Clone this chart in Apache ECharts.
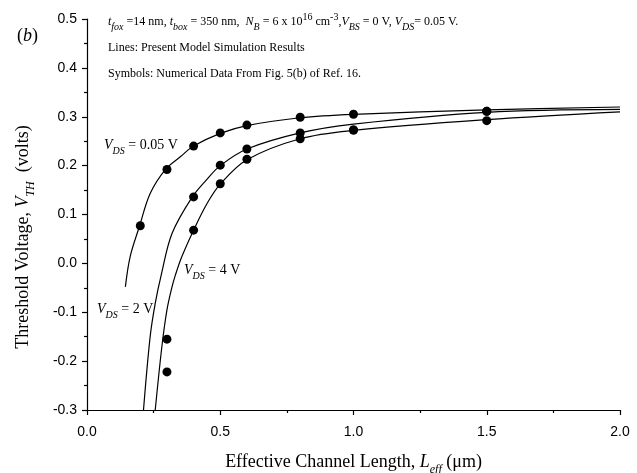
<!DOCTYPE html>
<html><head><meta charset="utf-8">
<script src="https://cdn.jsdelivr.net/npm/echarts@6/dist/echarts.min.js"></script>
<style>html,body{margin:0;padding:0;background:#fff}#c{width:637px;height:473px}</style>
</head><body><div id="c"></div>
<script>
// Axis ticks
const xTicks = [0.0, 0.5, 1.0, 1.5, 2.0];
const yTicks = [-0.3, -0.2, -0.1, 0.0, 0.1, 0.2, 0.3, 0.4, 0.5];

// Symbols: numerical data (Leff in um, Vth in V)
const symLeff005 = [0.2, 0.3, 0.4, 0.5, 0.6, 0.8, 1.0, 1.5];
const symVth005  = [0.077, 0.192, 0.240, 0.267, 0.283, 0.299, 0.305, 0.311];
const symLeff2   = [0.3, 0.4, 0.5, 0.6, 0.8, 1.0, 1.5];
const symVth2    = [-0.155, 0.136, 0.201, 0.234, 0.267, 0.273, 0.311];
const symLeff4   = [0.3, 0.4, 0.5, 0.6, 0.8, 1.0, 1.5];
const symVth4    = [-0.222, 0.068, 0.163, 0.213, 0.255, 0.273, 0.292];

// Lines: model results
const lineLeff005 = [0.144, 0.162, 0.197, 0.237, 0.294, 0.35, 0.4, 0.5, 0.6, 0.8, 1.0, 1.5, 2.0];
const lineVth005  = [-0.048, 0.014, 0.076, 0.143, 0.192, 0.218, 0.240, 0.266, 0.282, 0.298, 0.305, 0.314, 0.320];
const lineLeff2   = [0.212, 0.237, 0.256, 0.278, 0.319, 0.394, 0.45, 0.5, 0.6, 0.8, 1.0, 1.5, 2.0];
const lineVth2    = [-0.300, -0.150, -0.082, -0.025, 0.061, 0.135, 0.172, 0.200, 0.234, 0.267, 0.285, 0.309, 0.315];
const lineLeff4   = [0.256, 0.281, 0.300, 0.319, 0.331, 0.356, 0.4, 0.45, 0.5, 0.6, 0.8, 1.0, 1.5, 2.0];
const lineVth4    = [-0.300, -0.170, -0.095, -0.048, -0.025, 0.014, 0.068, 0.122, 0.162, 0.212, 0.255, 0.272, 0.294, 0.310];

const zip = (a, b) => a.map((v, i) => [v, b[i]]);
const serif = '"Liberation Serif","Times New Roman",serif';
const sans = '"Liberation Sans",Arial,sans-serif';

function richSet(fs, subFs) {
  const L = Math.round(subFs + 0.84 * fs);
  return {
    r: {fontFamily: serif, fontSize: fs, color: '#000', lineHeight: L},
    it: {fontFamily: serif, fontSize: fs, fontStyle: 'italic', color: '#000', lineHeight: L},
    sb: {fontFamily: serif, fontSize: subFs, fontStyle: 'italic', color: '#000', verticalAlign: 'bottom'},
    sp: {fontFamily: serif, fontSize: subFs, color: '#000', verticalAlign: 'top'}
  };
}

const chart = echarts.init(document.getElementById('c'), null, {renderer: 'canvas'});
const lineStyle = {color: '#000', width: 1.2};
const mkLine = (xs, ys) => ({type: 'line', data: zip(xs, ys), showSymbol: false, smooth: 0.35, lineStyle, silent: true, z: 2});
const mkSym = (xs, ys) => ({type: 'scatter', data: zip(xs, ys), symbol: 'circle', symbolSize: 9, itemStyle: {color: '#000', opacity: 1}, silent: true, z: 3});

chart.setOption({
  animation: false,
  backgroundColor: '#fff',
  grid: {left: 87, right: 17, top: 19, bottom: 63, outerBoundsMode: 'none', containLabel: false},
  xAxis: {
    type: 'value', min: 0, max: 2, interval: 0.5,
    axisLine: {show: true, onZero: false, lineStyle: {color: '#000', width: 1.2}},
    axisTick: {show: true, inside: false, length: 5, lineStyle: {color: '#000', width: 1.2}},
    minorTick: {show: true, splitNumber: 2, length: 3, lineStyle: {color: '#000', width: 1.2}},
    splitLine: {show: false},
    axisLabel: {color: '#000', fontFamily: sans, fontSize: 14, margin: 15,
      formatter: v => xTicks.includes(+v.toFixed(1)) ? v.toFixed(1) : ''},
    name: '{r|Effective Channel Length, }{it|L}{sb|eff}{r| (μm)}',
    nameLocation: 'middle', nameGap: 39,
    nameTextStyle: {rich: richSet(18, 12)}
  },
  yAxis: {
    type: 'value', min: -0.3, max: 0.5, interval: 0.1,
    axisLine: {show: true, onZero: false, lineStyle: {color: '#000', width: 1.2}},
    axisTick: {show: true, inside: false, length: 5, lineStyle: {color: '#000', width: 1.2}},
    minorTick: {show: true, splitNumber: 2, length: 3, lineStyle: {color: '#000', width: 1.2}},
    splitLine: {show: false},
    axisLabel: {color: '#000', fontFamily: sans, fontSize: 14, margin: 10,
      formatter: v => { const r = +(+v).toFixed(1); return yTicks.includes(r) ? r.toFixed(1) : ''; }}
  },
  series: [
    mkLine(lineLeff005, lineVth005),
    mkLine(lineLeff2, lineVth2),
    mkLine(lineLeff4, lineVth4),
    mkSym(symLeff005, symVth005),
    mkSym(symLeff2, symVth2),
    mkSym(symLeff4, symVth4)
  ],
  graphic: [
    {type: 'text', x: 23, y: 237, rotation: Math.PI / 2, style: {align: 'center', verticalAlign: 'middle', rich: richSet(18, 12),
      text: '{r|Threshold Voltage, }{it|V}{sb|TH}{r|  (volts)}'}},
    {type: 'text', x: 17, y: 36, style: {text: '{r|(}{it|b}{r|)}', rich: richSet(18, 12), verticalAlign: 'middle'}},
    {type: 'text', x: 108, y: 22, style: {verticalAlign: 'middle', rich: richSet(12, 10),
      text: '{it|t}{sb|fox}{r| =14 nm, }{it|t}{sb|box}{r| = 350 nm,  }{it|N}{sb|B}{r| = 6 x 10}{sp|16}{r| cm}{sp|-3}{r|,}{it|V}{sb|BS}{r| = 0 V, }{it|V}{sb|DS}{r|= 0.05 V.}'}},
    {type: 'text', x: 108, y: 48, style: {verticalAlign: 'middle', rich: richSet(12, 10), text: '{r|Lines: Present Model Simulation Results}'}},
    {type: 'text', x: 108, y: 74, style: {verticalAlign: 'middle', rich: richSet(12, 10), text: '{r|Symbols: Numerical Data From Fig. 5(b) of Ref. 16.}'}},
    {type: 'text', x: 104, y: 145, style: {verticalAlign: 'middle', rich: richSet(14, 10), text: '{it|V}{sb|DS}{r| = 0.05 V}'}},
    {type: 'text', x: 184, y: 270, style: {verticalAlign: 'middle', rich: richSet(14, 10), text: '{it|V}{sb|DS}{r| = 4 V}'}},
    {type: 'text', x: 97, y: 309, style: {verticalAlign: 'middle', rich: richSet(14, 10), text: '{it|V}{sb|DS}{r| = 2 V}'}}
  ]
});
</script></body></html>
